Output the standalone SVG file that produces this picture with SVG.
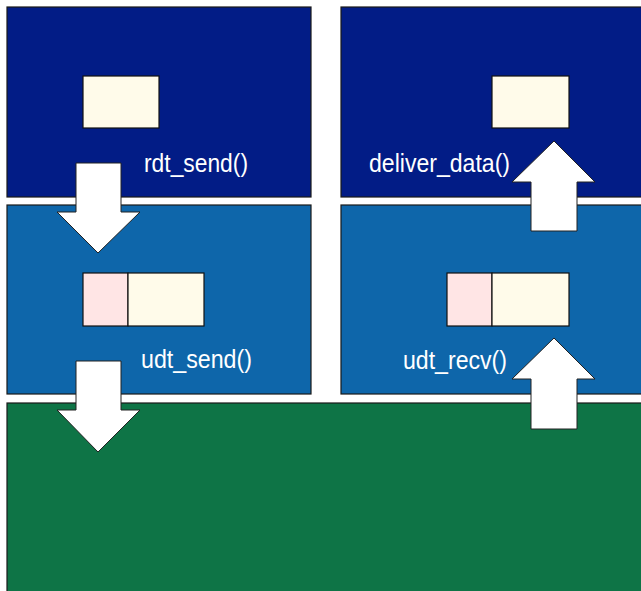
<svg xmlns="http://www.w3.org/2000/svg" width="641" height="591" viewBox="0 0 641 591">
  <style>
    .layer { stroke: #1a1a1a; stroke-width: 1.2; }
    .app { fill: #021c86; }
    .transport { fill: #0e66aa; }
    .net { fill: #0e7446; }
    .data { fill: #fffbea; stroke: #111; stroke-width: 1.2; }
    .hdr { fill: #ffe5e5; stroke: #111; stroke-width: 1.2; }
    .label { font-family: "Liberation Sans", Arial, sans-serif; font-size: 25px; fill: #ffffff; }
    .arrow { fill: #ffffff; stroke: #222; stroke-width: 1; }
  </style>
  <rect width="641" height="591" fill="#ffffff"/>

  <!-- sender side: application layer -->
  <g id="sender-app">
    <rect class="layer app" x="7" y="7" width="304" height="190"/>
    <rect class="data" x="83" y="76" width="76" height="52"/>
    <text class="label" x="144" y="172" textLength="104" lengthAdjust="spacingAndGlyphs">rdt_send()</text>
  </g>

  <!-- receiver side: application layer -->
  <g id="receiver-app">
    <rect class="layer app" x="341" y="7" width="310" height="190"/>
    <rect class="data" x="492" y="76" width="77" height="52"/>
    <text class="label" x="369" y="172" textLength="141" lengthAdjust="spacingAndGlyphs">deliver_data()</text>
  </g>

  <!-- sender side: transport layer -->
  <g id="sender-transport">
    <rect class="layer transport" x="7" y="205" width="304" height="189"/>
    <rect class="hdr" x="83" y="273" width="45" height="53"/>
    <rect class="data" x="128" y="273" width="76" height="53"/>
    <text class="label" x="141" y="368" textLength="111" lengthAdjust="spacingAndGlyphs">udt_send()</text>
  </g>

  <!-- receiver side: transport layer -->
  <g id="receiver-transport">
    <rect class="layer transport" x="341" y="205" width="310" height="189"/>
    <rect class="hdr" x="447" y="273" width="45" height="53"/>
    <rect class="data" x="492" y="273" width="77" height="53"/>
    <text class="label" x="403" y="369" textLength="104" lengthAdjust="spacingAndGlyphs">udt_recv()</text>
  </g>

  <!-- network: unreliable channel -->
  <g id="channel">
    <rect class="layer net" x="7" y="403" width="644" height="198"/>
  </g>

  <!-- block arrows between layers -->
  <g id="connectors">
    <polygon class="arrow" points="76,163 121,163 121,212 140,212 98,253 57,212 76,212"/>
    <polygon class="arrow" points="76,361 121,361 121,410 140,410 98,452 57,410 76,410"/>
    <polygon class="arrow" points="531,231 577,231 577,182 595,182 554,141 512,182 531,182"/>
    <polygon class="arrow" points="531,429 577,429 577,379 595,379 554,338 512,379 531,379"/>
  </g>
</svg>
